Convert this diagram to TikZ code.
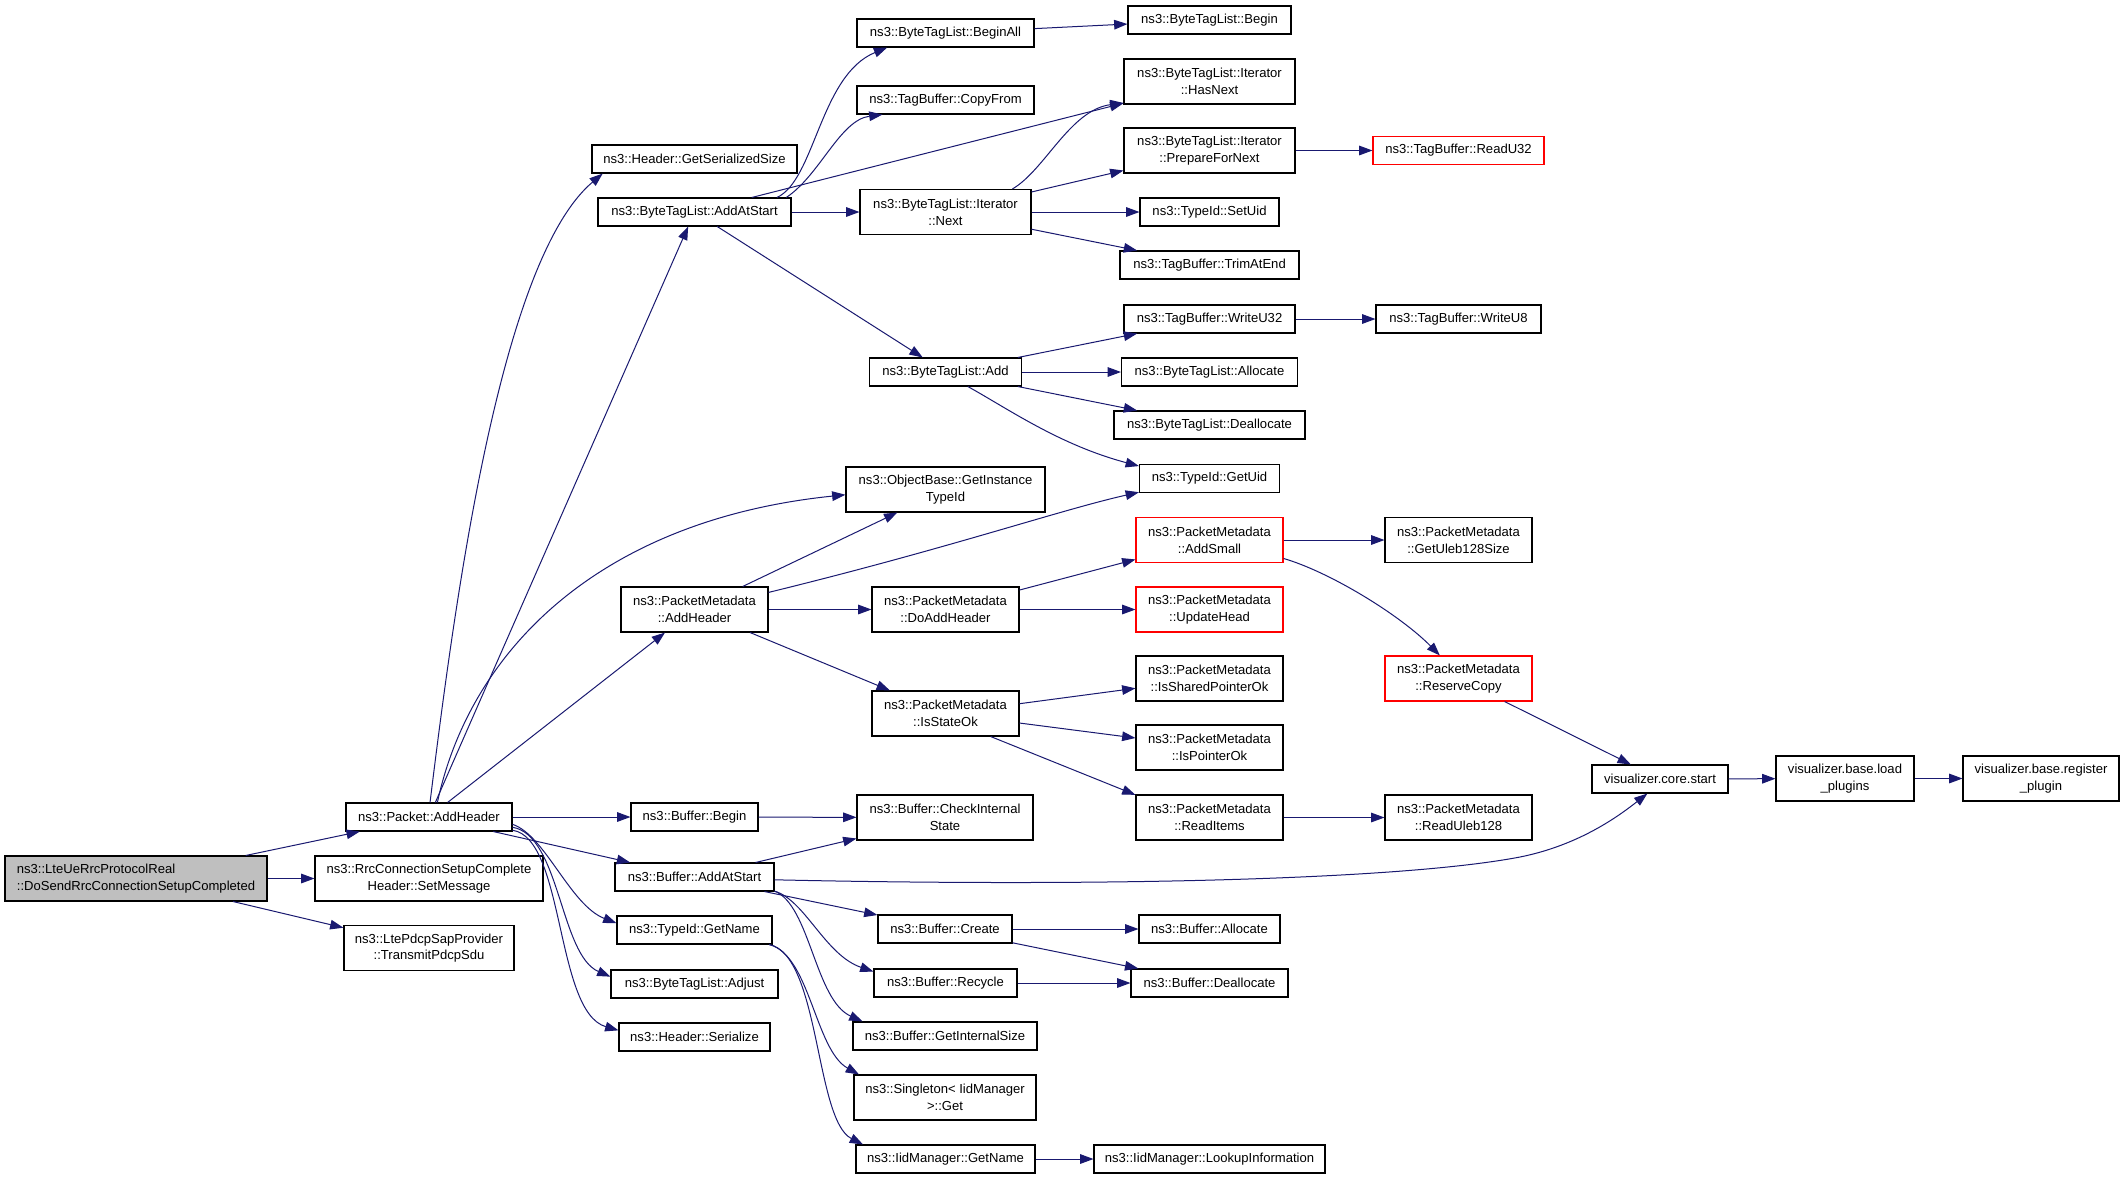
\documentclass[tikz,border=0pt]{standalone}
\usepackage{fontspec}
\setmainfont{Liberation Sans}
\usetikzlibrary{arrows.meta}
\definecolor{edgec}{HTML}{191970}
\definecolor{rootfill}{HTML}{BFBFBF}
\begin{document}
\begin{tikzpicture}[x=0.75pt,y=-0.75pt,
  bx/.style={draw=black, line width=0.8pt, fill=white, rectangle, inner sep=0pt, align=center,
    font=\fontsize{9.8pt}{12.5pt}\selectfont, minimum height=21pt},
  two/.style={minimum height=33.75pt},
  bw/.style={minimum width=#1*0.75pt},
  redbx/.style={draw=red},
  e/.style={draw=edgec, line width=0.75pt, -{Triangle[length=10pt,width=7.2pt]}},
]
\useasboundingbox (0,0) rectangle (2125,1179);
\fill[white] (0,0) rectangle (2125,1179);

% column 0/1
\node[bx,two,bw=262,fill=rootfill,align=left] (root) at (136,878.5) {ns3::LteUeRrcProtocolReal\\::DoSendRrcConnectionSetupCompleted};
\node[bx,bw=166] (pah) at (429,817) {ns3::Packet::AddHeader};
\node[bx,two,bw=228] (setmsg) at (429,878.5) {ns3::RrcConnectionSetupComplete\\Header::SetMessage};
\node[bx,two,bw=170] (pdcp) at (429,948) {ns3::LtePdcpSapProvider\\::TransmitPdcpSdu};
% column 2
\node[bx,bw=205] (hgss) at (694.5,159) {ns3::Header::GetSerializedSize};
\node[bx,bw=193] (btaas) at (694.5,212) {ns3::ByteTagList::AddAtStart};
\node[bx,two,bw=147] (pmah) at (694.5,609.5) {ns3::PacketMetadata\\::AddHeader};
\node[bx,bw=127] (bbegin) at (694.5,817) {ns3::Buffer::Begin};
\node[bx,bw=159] (baas) at (694.5,877) {ns3::Buffer::AddAtStart};
\node[bx,bw=155] (tgn) at (694.5,930) {ns3::TypeId::GetName};
\node[bx,bw=167] (adjust) at (694.5,984) {ns3::ByteTagList::Adjust};
\node[bx,bw=151] (hser) at (694.5,1037) {ns3::Header::Serialize};
% column 3
\node[bx,bw=177] (beginall) at (945.5,33) {ns3::ByteTagList::BeginAll};
\node[bx,bw=177] (copyfrom) at (945.5,100) {ns3::TagBuffer::CopyFrom};
\node[bx,two,bw=171] (next) at (945.5,212) {ns3::ByteTagList::Iterator\\::Next};
\node[bx,bw=152] (btadd) at (945.5,372) {ns3::ByteTagList::Add};
\node[bx,two,bw=199] (gitid) at (945.5,489.5) {ns3::ObjectBase::GetInstance\\TypeId};
\node[bx,two,bw=147] (doadd) at (945.5,609.5) {ns3::PacketMetadata\\::DoAddHeader};
\node[bx,two,bw=147] (isok) at (945.5,713.5) {ns3::PacketMetadata\\::IsStateOk};
\node[bx,two,bw=176] (cis) at (945,817.5) {ns3::Buffer::CheckInternal\\State};
\node[bx,bw=134] (bcreate) at (945,929) {ns3::Buffer::Create};
\node[bx,bw=143] (brecycle) at (945.5,983) {ns3::Buffer::Recycle};
\node[bx,bw=184] (gis) at (945,1036) {ns3::Buffer::GetInternalSize};
\node[bx,two,bw=182] (sget) at (945,1097.5) {ns3::Singleton< IidManager\\>::Get};
\node[bx,bw=179] (igetname) at (945.5,1159) {ns3::IidManager::GetName};
% column 4
\node[bx,bw=163] (begin) at (1209.5,20) {ns3::ByteTagList::Begin};
\node[bx,two,bw=171] (hasnext) at (1209.5,81.5) {ns3::ByteTagList::Iterator\\::HasNext};
\node[bx,two,bw=171] (prep) at (1209.5,150.5) {ns3::ByteTagList::Iterator\\::PrepareForNext};
\node[bx,bw=139] (setuid) at (1209.5,212) {ns3::TypeId::SetUid};
\node[bx,bw=179] (trim) at (1209.5,265) {ns3::TagBuffer::TrimAtEnd};
\node[bx,bw=171] (writeu32) at (1209.5,319) {ns3::TagBuffer::WriteU32};
\node[bx,bw=176] (btalloc) at (1209.5,372) {ns3::ByteTagList::Allocate};
\node[bx,bw=191] (btdealloc) at (1209.5,425) {ns3::ByteTagList::Deallocate};
\node[bx,bw=140] (getuid) at (1209.5,478.5) {ns3::TypeId::GetUid};
\node[bx,two,bw=147,redbx] (addsmall) at (1209.5,540) {ns3::PacketMetadata\\::AddSmall};
\node[bx,two,bw=147,redbx] (updhead) at (1209.5,609.5) {ns3::PacketMetadata\\::UpdateHead};
\node[bx,two,bw=147] (isshared) at (1209.5,678.5) {ns3::PacketMetadata\\::IsSharedPointerOk};
\node[bx,two,bw=147] (isptr) at (1209.5,747.5) {ns3::PacketMetadata\\::IsPointerOk};
\node[bx,two,bw=147] (readitems) at (1209.5,817.5) {ns3::PacketMetadata\\::ReadItems};
\node[bx,bw=141] (balloc) at (1209.5,929) {ns3::Buffer::Allocate};
\node[bx,bw=157] (bdealloc) at (1209.5,983) {ns3::Buffer::Deallocate};
\node[bx,bw=231] (lookup) at (1209.5,1159) {ns3::IidManager::LookupInformation};
% column 5
\node[bx,bw=171,redbx] (readu32) at (1458.5,150.5) {ns3::TagBuffer::ReadU32};
\node[bx,bw=165] (writeu8) at (1458.5,319) {ns3::TagBuffer::WriteU8};
\node[bx,two,bw=147] (uleb) at (1458.5,540) {ns3::PacketMetadata\\::GetUleb128Size};
\node[bx,two,bw=147,redbx] (reserve) at (1458.5,678.5) {ns3::PacketMetadata\\::ReserveCopy};
\node[bx,two,bw=147] (readuleb) at (1458.5,817.5) {ns3::PacketMetadata\\::ReadUleb128};
% visualizer
\node[bx,bw=136] (vcs) at (1660,779) {visualizer.core.start};
\node[bx,two,bw=138] (vbl) at (1845,778.5) {visualizer.base.load\\\_plugins};
\node[bx,two,bw=156] (vbr) at (2041,778.5) {visualizer.base.register\\\_plugin};

% edges
\draw[e] (root) -- (pah);
\draw[e] (root) -- (setmsg);
\draw[e] (root) -- (pdcp);

\draw[e] (pah.86) .. controls (455,600) and (500,260) .. (hgss.189);
\draw[e] (pah) -- (btaas);
\draw[e] (pah.60) .. controls (470,650) and (600,520) .. (gitid.183);
\draw[e] (pah) -- (pmah);
\draw[e] (pah) -- (bbegin);
\draw[e] (pah) -- (baas);
\draw[e] (pah.-5) .. controls (545,835) and (570,905) .. (tgn.175);
\draw[e] (pah.-7) .. controls (560,835) and (560,955) .. (adjust.175);
\draw[e] (pah.-9) .. controls (565,838) and (555,1012) .. (hser.175);

\draw[e] (btaas.10.5) .. controls (815,180) and (820,75) .. (beginall.194);
\draw[e] (btaas.9.5) .. controls (820,175) and (840,120) .. (copyfrom.193);
\draw[e] (btaas) -- (hasnext);
\draw[e] (btaas) -- (next);
\draw[e] (btaas) -- (btadd);
\draw[e] (beginall) -- (begin);

\draw[e] (next.19) .. controls (1045,170) and (1070,110) .. (hasnext.194);
\draw[e] (next) -- (prep);
\draw[e] (next) -- (setuid);
\draw[e] (next) -- (trim);
\draw[e] (prep) -- (readu32);

\draw[e] (btadd) -- (writeu32);
\draw[e] (btadd) -- (btalloc);
\draw[e] (btadd) -- (btdealloc);
\draw[e] (btadd.327) .. controls (1010,410) and (1060,445) .. (getuid.170);
\draw[e] (writeu32) -- (writeu8);

\draw[e] (pmah) -- (gitid);
\draw[e] (pmah.13) .. controls (950,548) and (1060,510) .. (getuid.191);
\draw[e] (pmah) -- (doadd);
\draw[e] (pmah) -- (isok);
\draw[e] (doadd) -- (addsmall);
\draw[e] (doadd) -- (updhead);
\draw[e] (addsmall) -- (uleb);
\draw[e] (addsmall.346) .. controls (1330,572) and (1400,615) .. (reserve.129);
\draw[e] (isok) -- (isshared);
\draw[e] (isok) -- (isptr);
\draw[e] (isok.333) -- (readitems.163);
\draw[e] (readitems) -- (readuleb);
\draw[e] (reserve) -- (vcs);
\draw[e] (vcs) -- (vbl);
\draw[e] (vbl) -- (vbr);

\draw[e] (bbegin) -- (cis);
\draw[e] (baas) -- (cis);
\draw[e] (baas.-2) .. controls (1100,887) and (1400,880) .. (1520,857) .. controls (1580,845) and (1620,815) .. (vcs.229);
\draw[e] (baas) -- (bcreate);
\draw[e] (baas.-10.3) .. controls (805,900) and (825,955) .. (brecycle.171);
\draw[e] (baas.-10.6) .. controls (810,905) and (815,1000) .. (gis.170);
\draw[e] (tgn.349) .. controls (810,955) and (815,1050) .. (sget.165);
\draw[e] (tgn.349) .. controls (820,955) and (815,1120) .. (igetname.170);
\draw[e] (bcreate) -- (balloc);
\draw[e] (bcreate) -- (bdealloc);
\draw[e] (brecycle) -- (bdealloc);
\draw[e] (igetname) -- (lookup);
\end{tikzpicture}
\end{document}
